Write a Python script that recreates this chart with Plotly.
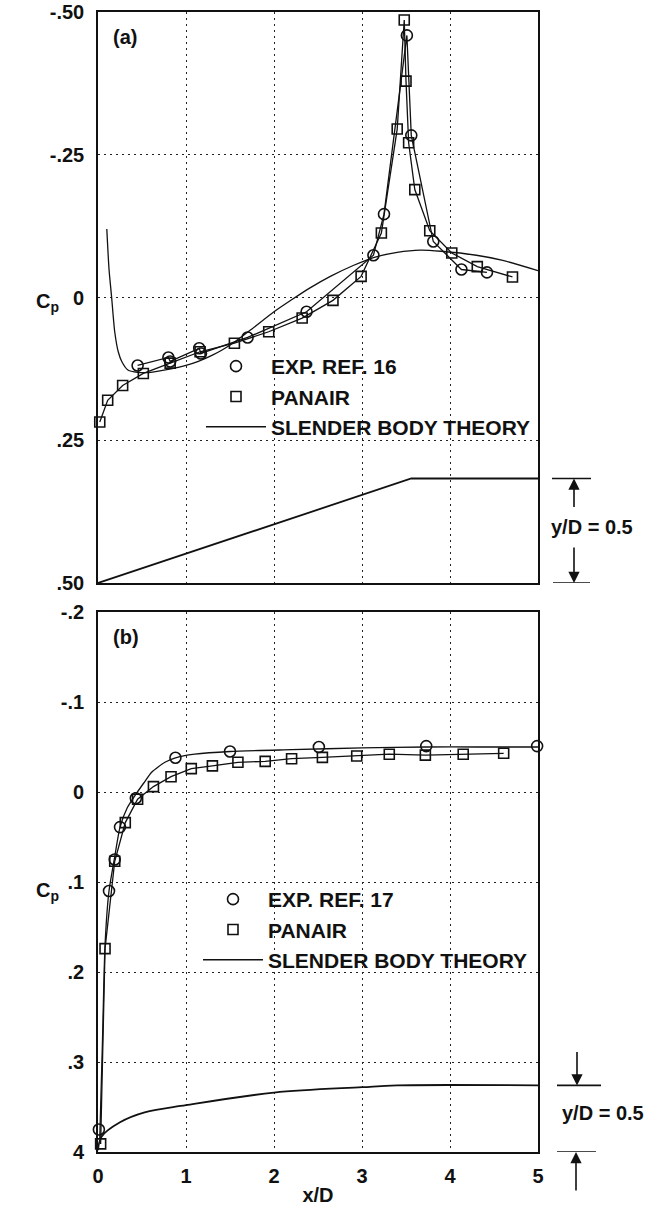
import plotly.graph_objects as go

# ---------------- Panel (a) data ----------------
exp16_x = [0.45, 0.80, 0.82, 1.15, 1.17, 1.70, 2.37, 3.13, 3.25, 3.51, 3.56, 3.81, 4.13, 4.42]
exp16_cp = [0.119, 0.105, 0.112, 0.089, 0.098, 0.070, 0.025, -0.074, -0.146, -0.459, -0.284, -0.098, -0.049, -0.044]

panair_a_x = [0.02, 0.11, 0.28, 0.515, 0.82, 1.16, 1.55, 1.94, 2.32, 2.67, 2.99, 3.22, 3.40, 3.48, 3.50, 3.53, 3.60, 3.77, 4.02, 4.31, 4.71]
panair_a_cp = [0.218, 0.180, 0.154, 0.133, 0.115, 0.095, 0.080, 0.060, 0.036, 0.005, -0.037, -0.113, -0.295, -0.486, -0.379, -0.271, -0.189, -0.117, -0.078, -0.054, -0.036]

sbt_a_x = [0.10, 0.125, 0.155, 0.19, 0.23, 0.27, 0.34, 0.45, 0.60, 0.83, 1.00, 1.14, 1.30, 1.41, 1.56, 1.75, 2.00, 2.20, 2.40, 2.64, 2.90, 3.13, 3.40, 3.66, 3.90, 4.30, 4.60, 5.00]
sbt_a_cp = [-0.120, -0.050, 0.000, 0.060, 0.095, 0.112, 0.127, 0.131, 0.131, 0.125, 0.119, 0.112, 0.101, 0.092, 0.077, 0.055, 0.025, 0.004, -0.016, -0.037, -0.056, -0.070, -0.079, -0.083, -0.081, -0.074, -0.065, -0.047]

body_a_x = [0.0, 3.56, 5.0]
body_a_y = [0.50, 0.317, 0.317]

# ---------------- Panel (b) data ----------------
exp17_x = [0.01, 0.125, 0.19, 0.25, 0.43, 0.88, 1.50, 2.51, 3.73, 4.99]
exp17_cp = [0.375, 0.110, 0.075, 0.039, 0.007, -0.038, -0.045, -0.050, -0.051, -0.051]

panair_b_x = [0.03, 0.08, 0.19, 0.31, 0.45, 0.63, 0.83, 1.06, 1.30, 1.59, 1.90, 2.20, 2.55, 2.94, 3.31, 3.72, 4.15, 4.61]
panair_b_cp = [0.391, 0.174, 0.077, 0.034, 0.008, -0.006, -0.017, -0.026, -0.029, -0.033, -0.034, -0.037, -0.0385, -0.040, -0.042, -0.041, -0.042, -0.043]

sbt_b_x = [0.02, 0.05, 0.08, 0.125, 0.19, 0.25, 0.33, 0.42, 0.52, 0.61, 0.76, 0.88, 1.10, 1.50, 2.20, 3.00, 3.73, 4.30, 5.00]
sbt_b_cp = [0.385, 0.280, 0.170, 0.110, 0.072, 0.039, 0.018, 0.004, -0.010, -0.022, -0.033, -0.038, -0.042, -0.045, -0.047, -0.049, -0.050, -0.050, -0.050]

body_b_x = [0.0, 0.04, 0.25, 0.53, 1.0, 2.0, 3.0, 3.4, 5.0]
body_b_y = [0.398, 0.383, 0.367, 0.356, 0.348, 0.334, 0.328, 0.326, 0.326]

# ticks
xticks = [0, 1, 2, 3, 4, 5]
xtick_text = ["0", "1", "2", "3", "4", "5"]
ya_ticks = [-0.50, -0.25, 0.0, 0.25, 0.50]
ya_text = ["-.50", "-.25", "0", ".25", ".50"]
yb_ticks = [-0.2, -0.1, 0.0, 0.1, 0.2, 0.3, 0.4]
yb_text = ["-.2", "-.1", "0", ".1", ".2", ".3", "4"]

FONT = "Liberation Sans, Arial, sans-serif"
FS = 20
LFS = 21
BLACK = "#111111"

fig = go.Figure()

# ---- panel (a) traces ----
fig.add_trace(go.Scatter(x=exp16_x, y=exp16_cp, mode="lines", line=dict(color=BLACK, width=1.3),
                         showlegend=False, xaxis="x", yaxis="y", hoverinfo="skip"))
fig.add_trace(go.Scatter(x=panair_a_x, y=panair_a_cp, mode="lines", line=dict(color=BLACK, width=1.3),
                         showlegend=False, xaxis="x", yaxis="y", hoverinfo="skip"))
fig.add_trace(go.Scatter(x=exp16_x, y=exp16_cp, mode="markers", name="EXP. REF. 16",
                         marker=dict(symbol="circle-open", size=11, color=BLACK, line=dict(width=1.6)),
                         cliponaxis=False, xaxis="x", yaxis="y", legend="legend"))
fig.add_trace(go.Scatter(x=panair_a_x, y=panair_a_cp, mode="markers", name="PANAIR",
                         marker=dict(symbol="square-open", size=10, color=BLACK, line=dict(width=1.6)),
                         cliponaxis=False, xaxis="x", yaxis="y", legend="legend"))
fig.add_trace(go.Scatter(x=sbt_a_x, y=sbt_a_cp, mode="lines", name="SLENDER BODY THEORY",
                         line=dict(color=BLACK, width=1.3, shape="spline", smoothing=0.6),
                         xaxis="x", yaxis="y", legend="legend"))
fig.add_trace(go.Scatter(x=body_a_x, y=body_a_y, mode="lines", line=dict(color=BLACK, width=1.8),
                         showlegend=False, xaxis="x", yaxis="y", hoverinfo="skip"))

# ---- panel (b) traces ----
fig.add_trace(go.Scatter(x=panair_b_x, y=panair_b_cp, mode="lines", line=dict(color=BLACK, width=1.3),
                         showlegend=False, xaxis="x2", yaxis="y2", hoverinfo="skip"))
fig.add_trace(go.Scatter(x=exp17_x, y=exp17_cp, mode="markers", name="EXP. REF. 17",
                         marker=dict(symbol="circle-open", size=11, color=BLACK, line=dict(width=1.6)),
                         cliponaxis=False, xaxis="x2", yaxis="y2", legend="legend2"))
fig.add_trace(go.Scatter(x=panair_b_x, y=panair_b_cp, mode="markers", name="PANAIR",
                         marker=dict(symbol="square-open", size=10, color=BLACK, line=dict(width=1.6)),
                         cliponaxis=False, xaxis="x2", yaxis="y2", legend="legend2"))
fig.add_trace(go.Scatter(x=sbt_b_x, y=sbt_b_cp, mode="lines", name="SLENDER BODY THEORY",
                         line=dict(color=BLACK, width=1.3, shape="spline", smoothing=0.6),
                         xaxis="x2", yaxis="y2", legend="legend2"))
fig.add_trace(go.Scatter(x=body_b_x, y=body_b_y, mode="lines", line=dict(color=BLACK, width=1.8, shape="spline"),
                         showlegend=False, xaxis="x2", yaxis="y2", hoverinfo="skip"))

grid = dict(showgrid=True, gridcolor="#222222", gridwidth=1, griddash="2px,4px")
axline = dict(showline=True, linecolor=BLACK, linewidth=1.6, mirror=True, zeroline=False, ticks="",
              automargin=False)

W, H = 651, 1210
ML, MR, MT, MB = 98, 113, 12, 58
PH = H - MT - MB

def ypaper(py):
    return (H - MB - py) / PH

def xpaper(px):
    return (px - ML) / (W - ML - MR)

fig.update_layout(
    width=W, height=H,
    margin=dict(l=ML, r=MR, t=MT, b=MB, autoexpand=False),
    paper_bgcolor="white", plot_bgcolor="white",
    font=dict(family=FONT, size=FS, color=BLACK),
    xaxis=dict(domain=[0, 1], anchor="y", range=[0, 5], tickvals=[1, 2, 3, 4], showticklabels=False, **grid, **axline),
    yaxis=dict(domain=[ypaper(583), 1], anchor="x", range=[0.5, -0.5], tickvals=ya_ticks, ticktext=ya_text,
               ticklabelstandoff=8, tickfont=dict(size=FS, weight="bold"), **grid, **axline),
    xaxis2=dict(domain=[0, 1], anchor="y2", range=[0, 5], tickvals=xticks, ticktext=xtick_text,
                ticklabelstandoff=5, tickfont=dict(size=FS, weight="bold"),
                title=dict(text="x/D", font=dict(size=FS, weight="bold"), standoff=2), **grid, **axline),
    yaxis2=dict(domain=[0, ypaper(612)], anchor="x2", range=[0.4, -0.2], tickvals=yb_ticks, ticktext=yb_text,
                ticklabelstandoff=8, tickfont=dict(size=FS, weight="bold"), **grid, **axline),
    legend=dict(x=xpaper(201), y=ypaper(346), xanchor="left", yanchor="top", itemwidth=60,
                bgcolor="rgba(0,0,0,0)", font=dict(size=LFS, family=FONT, weight="bold"), traceorder="normal"),
    legend2=dict(x=xpaper(198), y=ypaper(879), xanchor="left", yanchor="top", itemwidth=60,
                 bgcolor="rgba(0,0,0,0)", font=dict(size=LFS, family=FONT, weight="bold"), traceorder="normal"),
    showlegend=True,
)

bold = dict(size=FS, weight="bold")
ann = []
def label(text, px, py, xanchor="center"):
    return dict(text=text, xref="paper", yref="paper", x=xpaper(px), y=ypaper(py), xanchor=xanchor,
                yanchor="middle", showarrow=False, font=bold)

ann.append(label("(a)", 111, 37, "left"))
ann.append(label("(b)", 111, 637, "left"))
ann.append(label("C<sub>p</sub>", 47, 302))
ann.append(label("C<sub>p</sub>", 47, 891))
ann.append(label("y/D = 0.5", 592, 527))
ann.append(label("y/D = 0.5", 603, 1113))
# arrows
arrow = dict(showarrow=True, arrowhead=2, arrowsize=1.4, arrowwidth=1.6, arrowcolor=BLACK, text="",
             xref="paper", axref="pixel", ayref="pixel")
ann.append(dict(arrow, x=xpaper(574), y=body_a_y[-1], yref="y", ax=0, ay=30))
ann.append(dict(arrow, x=xpaper(574), y=0.5, yref="y", ax=0, ay=-37))
ann.append(dict(arrow, x=xpaper(577), y=body_b_y[-1], yref="y2", ax=0, ay=-35))
ann.append(dict(arrow, x=xpaper(576), y=0.4, yref="y2", ax=0, ay=40))
fig.update_layout(annotations=ann)

shapes = []
for yv, yr, x0, x1 in [(body_a_y[-1], "y", 552, 591), (0.5, "y", 553, 590),
                       (body_b_y[-1], "y2", 557, 601), (0.4, "y2", 557, 596)]:
    shapes.append(dict(type="line", xref="paper", yref=yr, x0=xpaper(x0), x1=xpaper(x1), y0=yv, y1=yv,
                       line=dict(color=BLACK, width=1.6)))
fig.update_layout(shapes=shapes)

fig.write_html("out.html", config={"displayModeBar": False},
               post_script="document.body.style.margin='0';document.body.style.overflow='hidden';")
